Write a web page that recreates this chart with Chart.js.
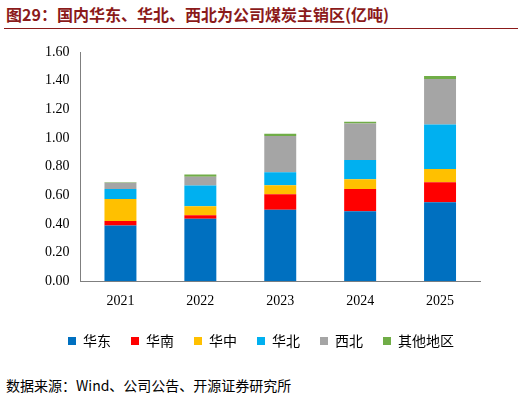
<!DOCTYPE html><html><head><meta charset="utf-8">
<script src="https://cdn.jsdelivr.net/npm/chart.js@4"></script>
<style>body{margin:0;width:522px;height:404px;background:#fff;font-family:"Noto Sans CJK SC";position:relative;overflow:hidden}
#t{position:absolute;left:6px;top:2px;font-size:16px;font-weight:bold;color:#8b1a1a;white-space:nowrap}
#line{position:absolute;left:4px;right:4px;top:28px;border-top:1px solid #8b1a1a}
#s{position:absolute;left:6px;top:375px;font-size:14px;color:#000;font-family:"Noto Sans CJK SC","Liberation Serif"}
#c{position:absolute;left:0;top:36px;width:522px;height:322px}</style></head><body>
<div id="t">图29：国内华东、华北、西北为公司煤炭主销区(亿吨)</div><div id="line"></div>
<div id="c"><canvas id="cv"></canvas></div>
<div id="s">数据来源：Wind、公司公告、开源证券研究所</div>
<script>
const categories=["2021","2022","2023","2024","2025"];
const seriesNames=["华东","华南","华中","华北","西北","其他地区"];
const huadong=[0.389,0.436,0.498,0.489,0.552];
const huanan=[0.031,0.025,0.109,0.155,0.139];
const huazhong=[0.153,0.063,0.063,0.068,0.093];
const huabei=[0.070,0.144,0.090,0.134,0.310];
const xibei=[0.044,0.062,0.253,0.255,0.318];
const qita=[0.003,0.014,0.016,0.012,0.021];
const colors=["#0070c0","#ff0000","#ffc000","#00b0f0","#a5a5a5","#70ad47"];
const vals=[huadong,huanan,huazhong,huabei,xibei,qita];
new Chart(document.getElementById('cv'),{type:'bar',
data:{labels:categories,datasets:vals.map((v,i)=>({label:seriesNames[i],data:v,backgroundColor:colors[i],borderWidth:0,categoryPercentage:1,barPercentage:0.4}))},
options:{responsive:true,maintainAspectRatio:false,animation:false,
layout:{padding:{left:42,right:42,top:16,bottom:0}},
plugins:{tooltip:{enabled:false},legend:{position:'bottom',labels:{boxWidth:8,boxHeight:8,padding:20,color:'#000',font:{size:14,family:'Noto Sans CJK SC'}}}},
scales:{x:{stacked:true,grid:{display:false},border:{color:'#7f7f7f'},ticks:{color:'#000',padding:4,font:{size:14,family:'Liberation Serif'}}},
y:{stacked:true,min:0,max:1.6,grid:{display:false},border:{color:'#7f7f7f'},ticks:{stepSize:0.2,color:'#000',callback:v=>v.toFixed(2),font:{size:14,family:'Liberation Serif'}}}}}});
</script></body></html>
